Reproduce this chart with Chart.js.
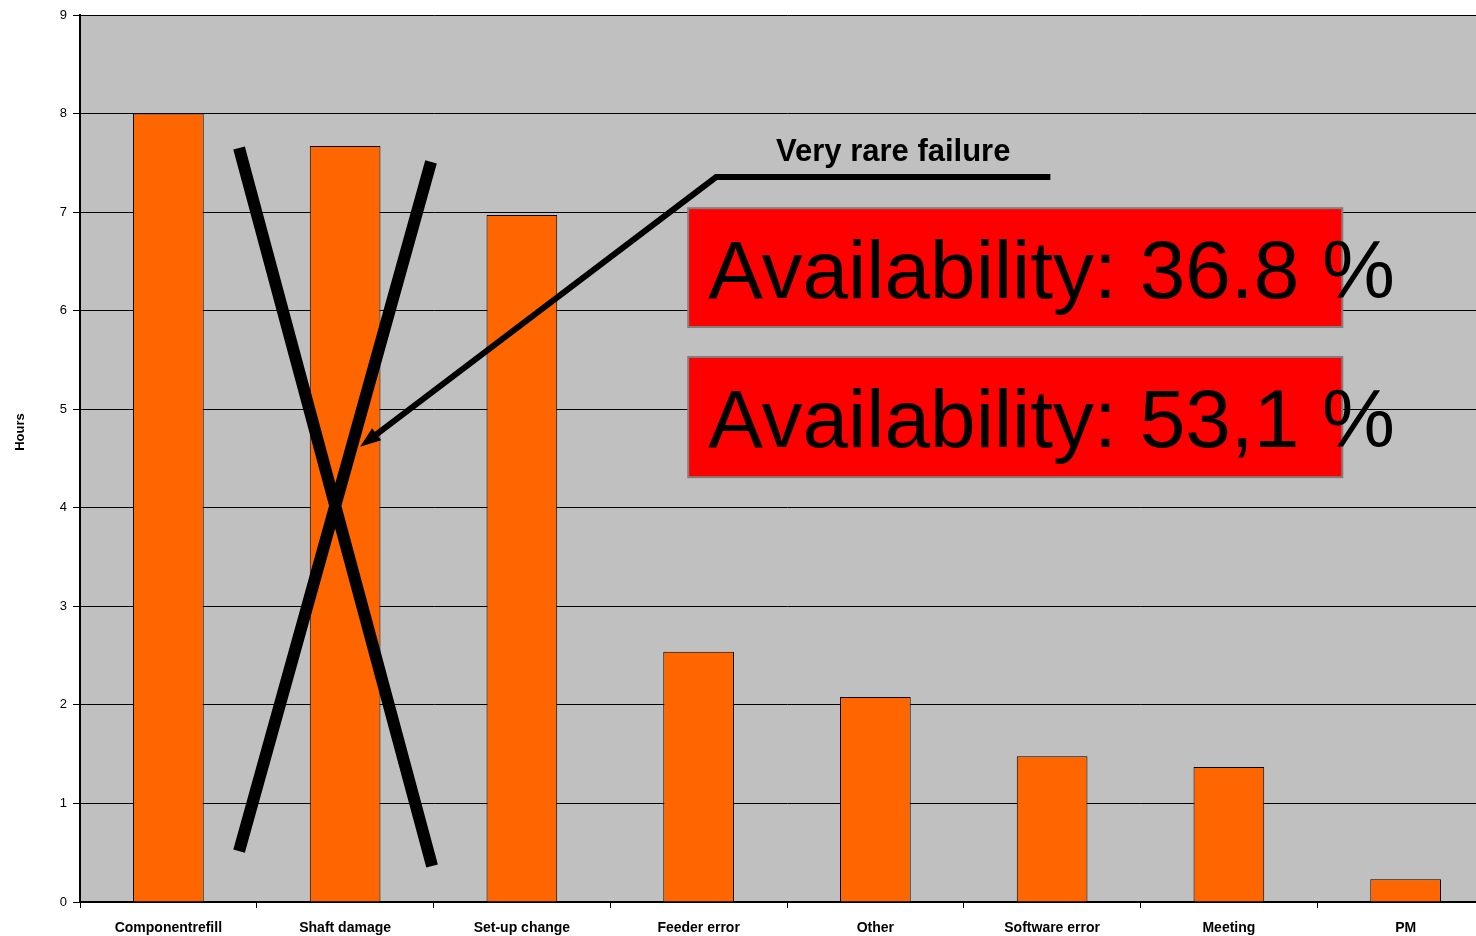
<!DOCTYPE html>
<html>
<head>
<meta charset="utf-8">
<script src="https://cdn.jsdelivr.net/npm/chart.js@4"></script>
<style>
  html, body { margin: 0; padding: 0; background: #fff; overflow: hidden; }
  #clip { width: 1476px; height: 936px; overflow: hidden; }
  #wrap { width: 1494px; height: 936px; }
</style>
</head>
<body>
<div id="clip"><div id="wrap"><canvas id="pareto_chart"></canvas></div></div>
<script>
var categories = ['Componentrefill', 'Shaft damage', 'Set-up change', 'Feeder error', 'Other', 'Software error', 'Meeting', 'PM'];
var hours = [8.0, 7.67, 6.97, 2.54, 2.08, 1.48, 1.37, 0.23];
var yTicks = [0, 1, 2, 3, 4, 5, 6, 7, 8, 9];

var availabilityOld = 'Availability: 36.8 %';
var availabilityNew = 'Availability: 53,1 %';
var calloutText = 'Very rare failure';
var yTitle = 'Hours';

var FONT = 'Arial, "Liberation Sans", sans-serif';

// gray plot background
var plotBg = {
    id: 'plotBg',
    beforeDraw: function (chart) {
        var a = chart.chartArea, ctx = chart.ctx;
        ctx.save();
        ctx.fillStyle = '#C0C0C0';
        ctx.fillRect(a.left, a.top, a.right - a.left, a.bottom - a.top);
        ctx.restore();
    }
};

// cross, arrow, callout and red boxes (placed in category/value units)
var overlay = {
    id: 'overlay',
    afterDraw: function (chart) {
        var ctx = chart.ctx;
        var xs = chart.scales.x, ys = chart.scales.y;
        function px(i) { return xs.getPixelForValue(0) + i * (xs.getPixelForValue(1) - xs.getPixelForValue(0)); }
        function py(v) { return ys.getPixelForValue(v); }

        ctx.save();
        // axis title
        ctx.fillStyle = '#000';
        ctx.font = 'bold 13px ' + FONT;
        ctx.textAlign = 'center';
        ctx.textBaseline = 'middle';
        ctx.translate(20, 432);
        ctx.rotate(-Math.PI / 2);
        ctx.fillText(yTitle, 0, 0);
        ctx.restore();

        ctx.save();
        ctx.strokeStyle = '#000';
        ctx.lineCap = 'butt';

        // big X over shaft damage
        ctx.lineWidth = 12;
        ctx.beginPath();
        ctx.moveTo(px(0.400), py(7.65));
        ctx.lineTo(px(1.492), py(0.365));
        ctx.moveTo(px(1.486), py(7.51));
        ctx.lineTo(px(0.400), py(0.517));
        ctx.stroke();

        // callout line + arrow
        ctx.lineWidth = 6;
        var sx = px(3.099), sy = py(7.356), ex = px(1.085), ey = py(4.62);
        ctx.beginPath();
        ctx.moveTo(px(4.99), sy);
        ctx.lineTo(sx, sy);
        ctx.lineTo(ex + 8, ey - 6);
        ctx.stroke();
        var ang = Math.atan2(ey - sy, ex - sx);
        ctx.fillStyle = '#000';
        ctx.beginPath();
        ctx.moveTo(ex, ey);
        ctx.lineTo(ex - 22 * Math.cos(ang - 0.35), ey - 22 * Math.sin(ang - 0.35));
        ctx.lineTo(ex - 22 * Math.cos(ang + 0.35), ey - 22 * Math.sin(ang + 0.35));
        ctx.closePath();
        ctx.fill();

        ctx.font = 'bold 31px ' + FONT;
        ctx.textAlign = 'center';
        ctx.textBaseline = 'alphabetic';
        ctx.fillText(calloutText, px(4.101), 161);

        // red boxes
        function box(top, bottom, text, base) {
            var l = px(2.941), r = px(6.642), t = py(top), b = py(bottom);
            ctx.fillStyle = '#FF0000';
            ctx.fillRect(l, t, r - l, b - t);
            ctx.strokeStyle = '#808080';
            ctx.lineWidth = 2;
            ctx.strokeRect(l, t, r - l, b - t);
            ctx.fillStyle = '#000';
            ctx.font = '82px ' + FONT;
            ctx.textAlign = 'left';
            ctx.fillText(text, l + 20, base);
        }
        box(7.04, 5.834, availabilityOld, 298);
        box(5.53, 4.31, availabilityNew, 447);
        ctx.restore();
    }
};

var CHART = document.getElementById('pareto_chart').getContext('2d');
var pareto_chart = new Chart(CHART, {
    type: 'bar',
    data: {
        labels: categories,
        datasets: [{
            data: hours,
            backgroundColor: '#FF6600',
            borderColor: '#000000',
            borderWidth: 1,
            barPercentage: 0.40,
            categoryPercentage: 1.0
        }]
    },
    options: {
        responsive: true,
        maintainAspectRatio: false,
        animation: false,
        layout: { padding: { top: 15, right: 0, left: 0, bottom: 0 } },
        plugins: {
            legend: { display: false },
            tooltip: { enabled: false }
        },
        scales: {
            x: {
                offset: true,
                grid: {
                    offset: true,
                    drawOnChartArea: false,
                    color: '#000',
                    tickLength: 6
                },
                border: { color: '#000', width: 2 },
                ticks: {
                    color: '#000',
                    maxRotation: 0,
                    autoSkip: false,
                    padding: 12,
                    font: { family: FONT, size: 14, weight: 'bold' }
                },
                afterFit: function (s) { s.height = 34; }
            },
            y: {
                min: 0,
                max: 9,
                afterBuildTicks: function (s) {
                    s.ticks = yTicks.map(function (v) { return { value: v }; });
                },
                grid: {
                    color: '#000',
                    lineWidth: 1,
                    tickLength: 7
                },
                border: { color: '#000', width: 2 },
                ticks: {
                    color: '#000',
                    padding: 6,
                    font: { family: FONT, size: 13 }
                },
                afterFit: function (s) { s.width = 80; }
            }
        }
    },
    plugins: [plotBg, overlay]
});
</script>
</body>
</html>
